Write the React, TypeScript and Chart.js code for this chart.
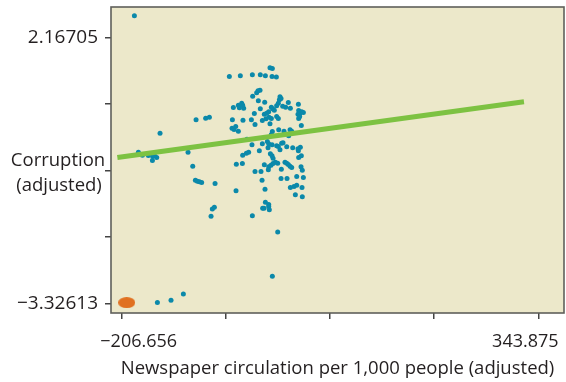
import React, { useEffect, useRef } from "react";
import { Chart, registerables } from "chart.js";

Chart.register(...registerables);

const xTicks = [-206.656, -69.023, 68.61, 206.243, 343.875];
const xTickLabels = ["\u2212206.656", "", "", "", "343.875"];
const yTicks = [-3.32613, -1.952835, -0.57954, 0.793755, 2.16705];
const yTickLabels = ["\u22123.32613", "", "", "", "2.16705"];
const xMin = -220.8;
const xMax = 377.8;
const yMin = -3.527;
const yMax = 2.796;

const xTitle = "Newspaper circulation per 1,000 people (adjusted)";
const yTitleLines = ["Corruption", "(adjusted)"];

// country points: newspaper circulation (adjusted), corruption (adjusted)
const countryX = [
  -189.9, -156.0, -184.6, -179.3, -171.4, -165.7, -160.4, -166.1, -163.5, -119.0,
  -112.8, -108.4, -95.7, -90.8, -109.3, -106.7, -104.0, -101.0, -83.3, -86.9,
  -84.2, -88.6, -55.6, -159.5, -141.5, -125.2, -7.6, -0.5, -34.0, -64.4,
  -49.9, -34.0, -23.5, -16.8, -10.7, -7.6, -8.0, -2.3, -23.9, -26.5,
  -28.3, -33.6, -26.1, -17.7, -59.1, -52.5, -48.1, -51.2, -45.5, -46.8,
  -31.4, -23.5, -18.2, -15.1, -12.4, -8.9, -7.2, -5.0, -16.0, -12.0,
  -8.9, -1.9, 0.3, 2.5, 3.9, 1.7, 0.3, -1.9, 6.1, 10.0,
  13.5, 16.2, 26.8, 27.2, 29.0, 31.2, 33.4, 26.3, 27.2, 28.5,
  -60.4, -46.4, -35.3, -30.5, -20.8, -10.7, 30.7, -60.9, -58.2, -56.0,
  -52.5, 0.8, 7.8, 15.8, 18.0, -7.6, -8.9, 14.0, -41.1, -34.5,
  -20.8, -14.2, -12.4, -13.3, -8.0, -1.9, 0.3, 2.5, 4.7, 6.5,
  11.4, 19.3, 26.8, 29.4, 26.3, -46.8, -41.9, -38.9, -24.8, -10.2,
  -8.0, -6.7, 30.7, 27.2, -55.2, -47.2, -18.2, -12.4, -9.4, -6.7,
  -3.6, -0.5, 9.1, 11.4, 13.5, 15.8, 18.0, -12.9, 4.3, 30.3,
  32.0, -30.5, -22.6, -21.2, 3.9, 11.8, 24.6, 33.4, -17.3, 16.2,
  21.0, 24.6, 31.6, 22.8, 32.0, -16.8, -12.4, -20.4, -12.4, -11.6,
  -18.6,
];
const countryY = [
  2.615, 0.189, -0.204, -0.266, -0.273, -0.294, -0.314, -0.376, -0.273, -0.204,
  -0.493, 0.465, 0.499, 0.52, -0.783, -0.804, -0.817, -0.831, -0.852, -1.376,
  -1.341, -1.527, -1.003, -3.312, -3.264, -3.133, -2.768, -1.851, -1.52, 1.361,
  1.374, 1.395, 1.395, 1.374, 1.54, 1.526, 1.361, 1.347, 1.078, 1.064,
  1.023, 0.954, 0.858, 0.83, 0.72, 0.768, 0.809, 0.713, 0.706, 0.768,
  0.596, 0.692, 0.582, 0.602, 0.63, 0.727, 0.692, 0.664, 0.485, 0.52,
  0.492, 0.534, 0.492, 0.94, 0.906, 0.878, 0.809, 0.754, 0.747, 0.727,
  0.823, 0.706, 0.789, 0.658, 0.602, 0.63, 0.616, 0.582, 0.492, 0.534,
  0.465, 0.458, 0.465, 0.368, 0.451, 0.382, 0.347, 0.292, 0.265, 0.327,
  0.23, 0.258, 0.23, 0.258, 0.23, 0.223, 0.161, 0.134, 0.065, -0.052,
  -0.032, 0.017, -0.032, -0.114, -0.052, -0.073, -0.087, -0.156, -0.018, -0.011,
  -0.094, -0.114, -0.176, -0.101, -0.135, -0.266, -0.225, -0.204, -0.176, -0.238,
  -0.28, -0.328, -0.28, -0.314, -0.452, -0.438, -0.466, -0.507, -0.473, -0.438,
  -0.411, -0.431, -0.411, -0.431, -0.459, -0.493, -0.521, -0.569, -0.555, -0.507,
  -0.576, -0.604, -0.604, -0.783, -0.748, -0.748, -0.707, -0.728, -0.969, -0.934,
  -0.914, -0.886, -0.934, -1.086, -1.127, -1.238, -1.286, -1.362, -1.327, -1.396,
  -1.362,
];
const highlightX = [-200.0];
const highlightY = [-3.312];
const fitX = [-212.4, 324.9];
const fitY = [-0.314, 0.837];

const FONT = "'Open Sans', 'DejaVu Sans', sans-serif";
const TEXT = "#231f20";

function ellipseImage(w: number, h: number, color: string) {
  const c = document.createElement("canvas");
  c.width = w;
  c.height = h;
  const g = c.getContext("2d")!;
  g.fillStyle = color;
  g.beginPath();
  g.ellipse(w / 2, h / 2, w / 2, h / 2, 0, 0, Math.PI * 2);
  g.fill();
  return c;
}

const framePlugin = {
  id: "frame",
  beforeDraw(chart: any) {
    const { ctx, chartArea: a } = chart;
    ctx.save();
    ctx.fillStyle = "#ece8ca";
    ctx.fillRect(a.left, a.top, a.right - a.left, a.bottom - a.top);
    ctx.restore();
  },
  afterDraw(chart: any) {
    const { ctx, chartArea: a, scales } = chart;
    ctx.save();
    ctx.strokeStyle = "#5f5f5a";
    ctx.lineWidth = 1.6;
    ctx.strokeRect(a.left, a.top, a.right - a.left, a.bottom - a.top);
    // y title (horizontal, two lines)
    ctx.fillStyle = TEXT;
    ctx.font = `18.5px ${FONT}`;
    ctx.textAlign = "center";
    ctx.textBaseline = "middle";
    const mid = (a.top + a.bottom) / 2;
    ctx.fillText(yTitleLines[0], 58, mid + 1);
    ctx.fillText(yTitleLines[1], 59, mid + 26);
    // x tick labels (first & last), shifted inward
    const xs = scales.x;
    ctx.font = `18px ${FONT}`;
    const ty = a.bottom + 29;
    ctx.textAlign = "center";
    ctx.fillText(xTickLabels[0], xs.getPixelForValue(xTicks[0]) + 17, ty);
    ctx.fillText(xTickLabels[4], xs.getPixelForValue(xTicks[4]) - 13, ty);
    ctx.restore();
  },
};

function noPad(s: any) {
  s.paddingTop = 0;
  s.paddingBottom = 0;
  s.paddingLeft = 0;
  s.paddingRight = 0;
}

export default function App() {
  const ref = useRef<HTMLCanvasElement>(null);
  useEffect(() => {
    document.body.style.margin = "0";
    const blue = countryX.map((x, i) => ({ x, y: countryY[i] }));
    const orange = highlightX.map((x, i) => ({ x, y: highlightY[i] }));
    const fit = fitX.map((x, i) => ({ x, y: fitY[i] }));
    const chart = new Chart(ref.current!, {
      type: "scatter",
      data: {
        datasets: [
          {
            data: fit,
            showLine: true,
            borderColor: "#7dc242",
            borderWidth: 5,
            pointRadius: 0,
            borderCapStyle: "butt",
          } as any,
          {
            data: orange,
            pointStyle: ellipseImage(17, 11, "#e07020") as any,
            pointRadius: 8,
          },
          {
            data: blue,
            backgroundColor: "#0b89aa",
            borderWidth: 0,
            pointRadius: 2.5,
          },
        ],
      },
      plugins: [framePlugin],
      options: {
        animation: false,
        responsive: false,
        events: [],
        layout: {
          autoPadding: false,
          padding: { top: 7, right: 2, left: 0, bottom: 0 },
        },
        plugins: { legend: { display: false }, tooltip: { enabled: false } },
        scales: {
          x: {
            type: "linear",
            min: xMin,
            max: xMax,
            afterBuildTicks: (s: any) => {
              s.ticks = xTicks.map((v) => ({ value: v }));
            },
            afterFit: (s: any) => {
              s.height = 69;
              noPad(s);
            },
            ticks: {
              callback: () => "",
              font: { size: 18, family: FONT },
              color: TEXT,
            },
            grid: {
              drawOnChartArea: false,
              drawTicks: true,
              tickLength: 6,
              color: "#444",
              lineWidth: 1.5,
            },
            border: { display: false },
            title: {
              display: true,
              text: xTitle,
              color: TEXT,
              font: { size: 18.5, family: FONT },
              padding: { top: 0, bottom: 2 },
            },
          },
          y: {
            type: "linear",
            min: yMin,
            max: yMax,
            afterBuildTicks: (s: any) => {
              s.ticks = yTicks.map((v) => ({ value: v }));
            },
            afterFit: (s: any) => {
              s.width = 111;
              noPad(s);
            },
            ticks: {
              callback: (_v: any, i: number) => yTickLabels[i],
              font: { size: 19, family: FONT },
              color: TEXT,
              padding: 7,
            },
            grid: {
              drawOnChartArea: false,
              drawTicks: true,
              tickLength: 6,
              color: "#444",
              lineWidth: 1.5,
            },
            border: { display: false },
          },
        },
      },
    });
    return () => chart.destroy();
  }, []);
  return (
    <div style={{ width: 566, height: 382, background: "#fff" }}>
      <canvas ref={ref} width={566} height={382} />
    </div>
  );
}
